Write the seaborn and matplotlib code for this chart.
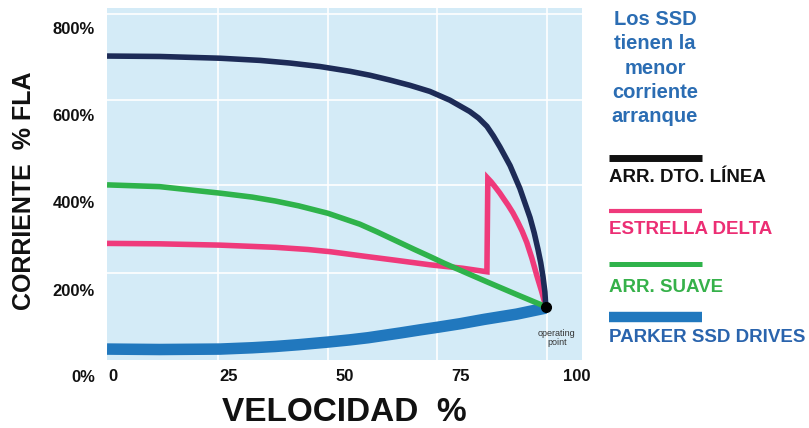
import numpy as np
import pandas as pd
import matplotlib
matplotlib.use("Agg")
import matplotlib.pyplot as plt
from matplotlib.lines import Line2D
import seaborn as sns

# values (speed %, current % FLA)
dol_x = [-1.3, 10.1, 23.1, 31.7, 38.1, 44.6, 51.1, 55.4, 59.7, 64.0, 68.3, 72.6, 76.9, 78.8, 80.6, 82.0,
         83.4, 85.6, 87.7, 89.9, 90.8, 91.6, 92.2, 92.7, 93.1, 93.3]
dol_y = [735, 734, 730, 725, 719, 711, 700, 691, 680, 668, 654, 634, 608, 593, 574, 552,
         527, 484, 432, 365, 330, 293, 262, 229, 195, 161]

sd_x = [-1.3, 10, 23.1, 35, 42, 46.8, 53.9, 61.2, 68.3, 75.4, 80.6, 80.8, 81.5, 82.4, 83.4, 84.1,
        85.2, 86.2, 87.2, 88.2, 89.2, 90.3, 91.4, 92.4, 93.3]
sd_y = [306, 305, 302, 297, 292, 287, 277, 267, 257, 249, 241, 455, 447, 435, 421, 410,
        393, 376, 356, 334, 308, 272, 231, 196, 161]

soft_x = [-1.3, 10, 23.1, 30, 35, 40, 46.3, 53.2, 57, 61.2, 65, 68.3, 71.5, 75.4, 80.6, 87, 93.3]
soft_y = [440, 436, 421, 412, 403, 392, 375, 350, 332, 311, 292, 276, 260, 242, 218, 189, 161]

ssd_x = [-1.3, 10, 23.1, 30, 35, 40, 46.3, 51, 55, 62, 66.2, 70, 74.8, 80, 87, 93.3]
ssd_y = [64, 63, 64, 67, 70, 74, 80, 85, 90, 101, 108, 114, 122, 132, 144, 158]

op_x = [93.3]
op_y = [161]

x_ticks = [0, 25, 50, 75, 100]
y_ticks = [200, 400, 600, 800]
y_tick_labels = ["200%", "400%", "600%", "800%"]
grid_x = [22.6, 46.3, 69.8, 93.5]
grid_y = [239, 440, 634, 831]

names = ["ARR. DTO. LÍNEA", "ESTRELLA DELTA", "ARR. SUAVE", "PARKER SSD DRIVES"]
line_cols = ["#1d2b57", "#ef3a7b", "#2fb34b", "#2178be"]
text_cols = ["#111111", "#ec2e74", "#36b14a", "#2a64ad"]

sns.set_theme(style="darkgrid", rc={"axes.facecolor": "#d4ebf7", "grid.color": "white"})
plt.rcParams['font.family'] = ['Liberation Sans', 'DejaVu Sans']
plt.rcParams['font.weight'] = 'bold'

fig, ax = plt.subplots(figsize=(8.09, 4.28), dpi=100)
fig.subplots_adjust(left=0.1323, right=0.7194, bottom=0.1589, top=0.9813)

kw = dict(ax=ax, sort=False, estimator=None, solid_capstyle='butt')
sns.lineplot(x=ssd_x, y=ssd_y, color=line_cols[3], lw=8.3, **kw)
sns.lineplot(x=sd_x, y=sd_y, color=line_cols[1], lw=4, solid_joinstyle='miter', **kw)
sns.lineplot(x=soft_x, y=soft_y, color=line_cols[2], lw=4, **kw)
sns.lineplot(x=dol_x, y=dol_y, color=line_cols[0], lw=4, **kw)
ax.plot(op_x, op_y, 'o', color='black', ms=7, zorder=5)
ax.annotate("operating\npoint", (op_x[0], op_y[0]), xytext=(11, -22), textcoords='offset pixels',
            ha='center', va='top', fontsize=6.5, fontweight='normal', color='#333333', linespacing=1.1)

ax.set_xlim(-1.3, 101.1)
ax.set_ylim(39, 845)
ax.set_xticks(x_ticks)
ax.set_xticklabels([str(v) for v in x_ticks], fontsize=12, fontweight='bold')
ax.set_yticks(y_ticks)
ax.set_yticklabels(y_tick_labels, fontsize=12, fontweight='bold')
ax.set_xticks(grid_x, minor=True)
ax.set_yticks(grid_y, minor=True)
ax.grid(False, which='major')
ax.grid(True, which='minor', color='white', lw=1.2)
ax.tick_params(which='both', length=0)
ax.tick_params(axis='y', pad=8.6, colors='#111111')
ax.tick_params(axis='x', pad=6.5, colors='#111111')
for s in ax.spines.values():
    s.set_visible(False)

ax.annotate("0%", (0, 0), xycoords=ax.get_yaxis_transform(), xytext=(-12, 0),
            textcoords='offset pixels', ha='right', va='center', fontsize=12,
            fontweight='bold', color='#111111', annotation_clip=False)

ax.set_xlabel("VELOCIDAD  %", fontsize=24, fontweight='bold', color='#111111', labelpad=9)
ax.set_ylabel("CORRIENTE  % FLA", fontsize=18, fontweight='bold', color='#111111')
ax.yaxis.set_label_coords(-0.15, 0.48)


def fx(px):
    return px / 809


def fy(py):
    return 1 - py / 428


fig.text(fx(655), fy(68), "Los SSD\ntienen la\nmenor\ncorriente\narranque", ha='center', va='center',
         multialignment='center', fontsize=14.5, fontweight='bold', color='#2b6db3', linespacing=1.36)

line_y = [158, 211, 264, 317]
label_y = [178, 230, 287, 337]
legend_lw = [5, 3, 3.6, 7.5]
for i in range(len(names)):
    fig.add_artist(Line2D([fx(609), fx(702)], [fy(line_y[i]), fy(line_y[i])],
                          color=text_cols[i] if i == 0 else line_cols[i], lw=legend_lw[i],
                          solid_capstyle='butt', transform=fig.transFigure))
    fig.text(fx(609), fy(label_y[i]), names[i], ha='left', va='center', fontsize=13.5,
             fontweight='bold', color=text_cols[i])

fig.savefig("out.png", dpi=100, facecolor='white')
